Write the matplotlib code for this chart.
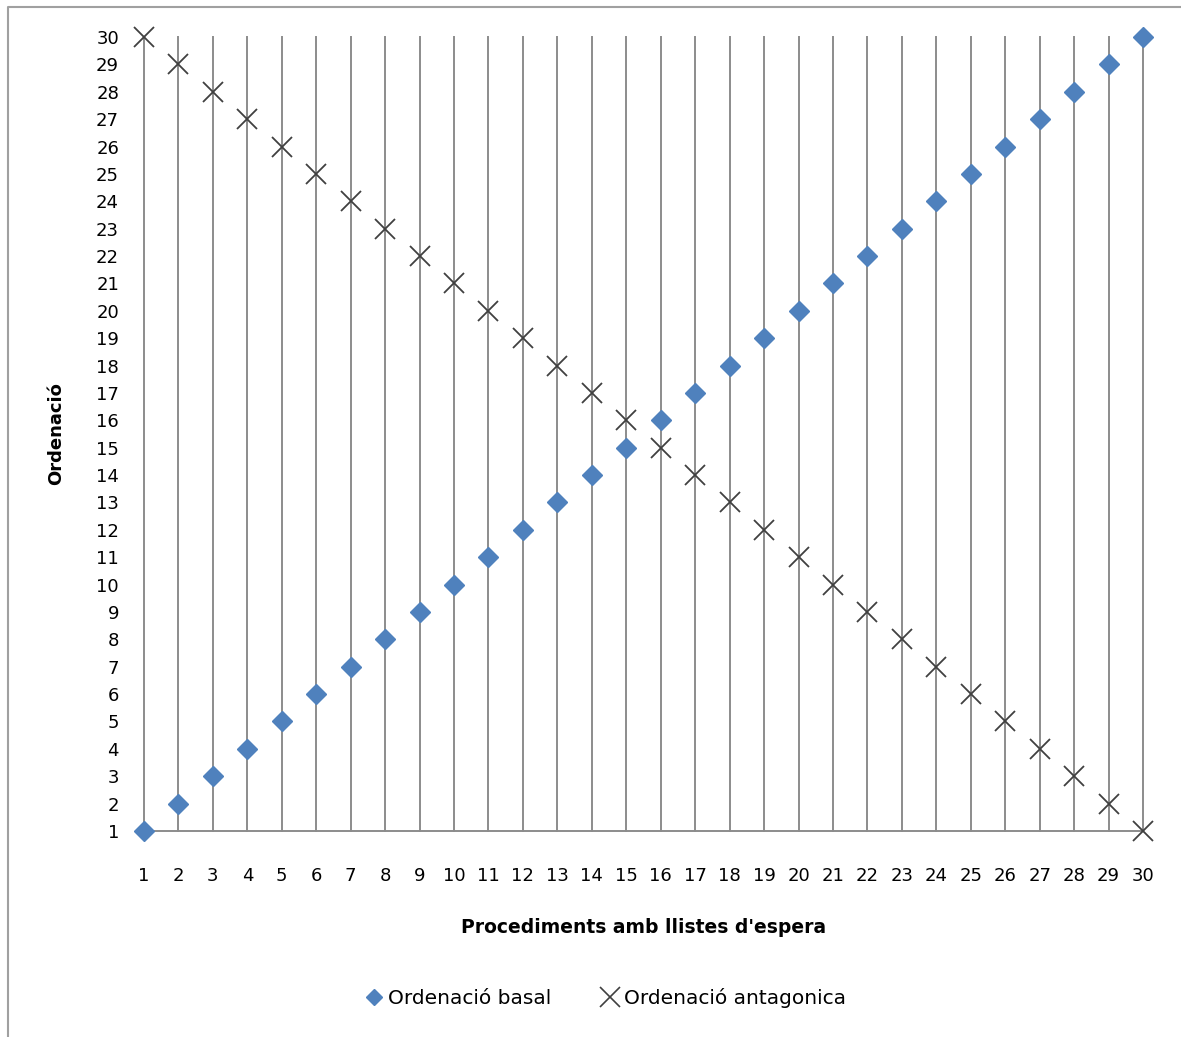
import matplotlib.pyplot as plt
from matplotlib.lines import Line2D

# procedures 1..30 and their two orderings
procediments = list(range(1, 31))
ordenacio_basal = [1, 2, 3, 4, 5, 6, 7, 8, 9, 10, 11, 12, 13, 14, 15,
                   16, 17, 18, 19, 20, 21, 22, 23, 24, 25, 26, 27, 28, 29, 30]
ordenacio_antagonica = [30, 29, 28, 27, 26, 25, 24, 23, 22, 21, 20, 19, 18, 17, 16,
                        15, 14, 13, 12, 11, 10, 9, 8, 7, 6, 5, 4, 3, 2, 1]

blue = '#4f81bd'
grey = '#404040'
grid_col = '#8c8c8c'

fig = plt.figure(figsize=(11.81, 10.37), dpi=100)
ax = fig.add_axes([144 / 1181, 1 - 831 / 1037, 999 / 1181, 794 / 1037])

# vertical gridlines at every procedure, horizontal base line
for x in procediments:
    ax.axvline(x, color=grid_col, lw=1.4, zorder=1, clip_on=False)
ax.axhline(1, color=grid_col, lw=1.4, zorder=1, clip_on=False)

ax.plot(procediments, ordenacio_basal, ls='none', marker='D', ms=10,
        color=blue, mec=blue, zorder=3, clip_on=False, label='Ordenació basal')
ax.plot(procediments, ordenacio_antagonica, ls='none', marker='x', ms=15,
        mew=1.3, color=grey, zorder=3, clip_on=False, label='Ordenació antagonica')

ax.set_xlim(1, 30)
ax.set_ylim(1, 30)
ax.set_xticks(procediments)
ax.set_yticks(range(1, 31))
ax.tick_params(axis='both', length=0, labelsize=13, colors='black')
ax.tick_params(axis='x', pad=26)
ax.tick_params(axis='y', pad=18)
for s in ax.spines.values():
    s.set_visible(False)

ax.set_xlabel('Procediments amb llistes d\'espera', fontsize=13.5, fontweight='bold',
              labelpad=24)
ax.set_ylabel('Ordenació', fontsize=13, fontweight='bold', labelpad=22)

handles = [
    Line2D([], [], ls='none', marker='D', ms=8, color=blue, label='Ordenació basal'),
    Line2D([], [], ls='none', marker='x', ms=14, mew=1.2, color=grey,
           label='Ordenació antagonica'),
]
fig.legend(handles=handles, loc='center', bbox_to_anchor=(605 / 1181, 1 - 998 / 1037),
           ncol=2, frameon=False, fontsize=14.5, handletextpad=0.2, columnspacing=2.4,
           handlelength=1.0)

# outer chart border (top and left edges)
fig.add_artist(Line2D([8 / 1181, 8 / 1181, 1.0], [0.0, 1 - 7 / 1037, 1 - 7 / 1037],
                      transform=fig.transFigure, color='#a0a0a0', lw=1.5))

fig.savefig('out.png', dpi=100)
